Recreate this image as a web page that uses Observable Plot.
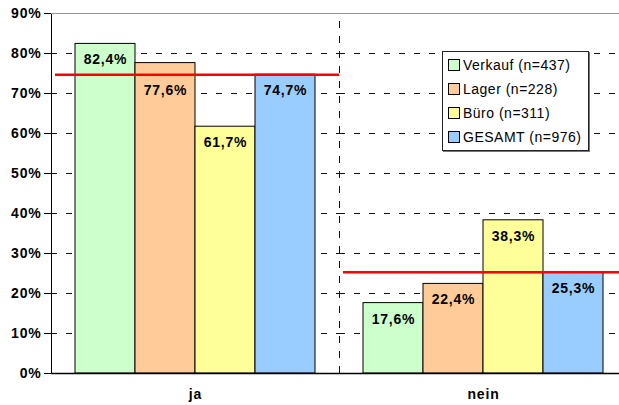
<!DOCTYPE html>
<html>
<head>
<meta charset="utf-8">
<script src="https://cdn.jsdelivr.net/npm/d3@7"></script>
<script src="https://cdn.jsdelivr.net/npm/@observablehq/plot@0.6"></script>
<style>
  body { margin: 0; background: #fff; }
  #wrap { position: relative; width: 619px; height: 405px; overflow: hidden; }
  #legend {
    position: absolute; left: 442px; top: 51px; width: 145px; height: 97px;
    border: 1px solid #222; background: #fff; box-shadow: 1px 1px 0 #777;
    font-family: "Liberation Sans", Arial, sans-serif; font-size: 14px; letter-spacing: 0.5px;
    padding-top: 1px;
  }
  .row { height: 24px; display: flex; align-items: center; padding-left: 5px; }
  .sw { width: 10px; height: 10px; border: 1px solid #000; margin-right: 3px; flex: none; }
  svg text { letter-spacing: 0.8px; }
</style>
</head>
<body>
<div id="wrap"></div>
<script>
const groups = ["ja", "nein"];
const series = ["Verkauf", "Lager", "Büro", "GESAMT"];
const legendLabels = ["Verkauf (n=437)", "Lager (n=228)", "Büro (n=311)", "GESAMT (n=976)"];
const colors = ["#CCFFCC", "#FFCC99", "#FFFF99", "#99CCFF"];
const jaValues = [82.4, 77.6, 61.7, 74.7];
const neinValues = [17.6, 22.4, 38.3, 25.3];
const yTicks = [0, 10, 20, 30, 40, 50, 60, 70, 80, 90];

const valuesByGroup = [jaValues, neinValues];
const rows = groups.flatMap((g, gi) => series.map((s, si) => ({group: g, series: s, value: valuesByGroup[gi][si]})));
const totalOf = g => rows.find(d => d.group === g && d.series === "GESAMT").value;
const fmt = v => v.toFixed(1).replace(".", ",") + "%";
// labels that would collide with the red GESAMT line are moved below it
const collides = d => d.series !== "GESAMT" && d.value > totalOf(d.group) && d.value - totalOf(d.group) < 4;

const padOuter = 0.4;
const fxRange = [51, 627];
const step = (fxRange[1] - fxRange[0]) / groups.length / (series.length + 2 * padOuter);

const chart = Plot.plot({
  width: 619,
  height: 405,
  marginLeft: 51,
  marginTop: 13,
  marginBottom: 32,
  marginRight: 0,
  style: {fontFamily: "'Liberation Sans', Arial, sans-serif", fontSize: "14px", fontWeight: "bold", color: "#000", background: "transparent"},
  fx: {domain: groups, range: fxRange, padding: 0, label: null, axis: "bottom", tickSize: 0, tickPadding: 16},
  x: {domain: series, paddingInner: 0, paddingOuter: padOuter, axis: null},
  y: {domain: [0, 90], ticks: yTicks, tickFormat: d => d + "%", tickSize: 7, tickPadding: 3, label: null, line: true},
  color: {domain: series, range: colors},
  marks: [
    Plot.ruleY(yTicks.filter(d => d > 0 && d < 90), {stroke: "#111", strokeWidth: 1, strokeDasharray: "6,9"}),
    Plot.ruleY([90], {stroke: "#999", strokeWidth: 1}),
    Plot.ruleX(rows.filter(d => d.group === "nein" && d.series === series[0]), {fx: "group", x: "series", y1: 0, y2: 90, dx: -step * (0.5 + padOuter), insetBottom: -5, stroke: "#111", strokeWidth: 1, strokeDasharray: "7,8"}),
    Plot.barY(rows, {fx: "group", x: "series", y: "value", fill: "series", stroke: "#000", strokeWidth: 1}),
    Plot.ruleY(rows.filter(d => d.series === "GESAMT"), {fx: "group", y: "value", stroke: "#ff0000", strokeWidth: 2.5, insetLeft: 4}),
    Plot.text(rows.filter(d => !collides(d)), {fx: "group", x: "series", y: "value", text: d => fmt(d.value), dy: 16, fontSize: 14, fontWeight: "bold", fill: "#000"}),
    Plot.text(rows.filter(collides), {fx: "group", x: "series", y: "value", text: d => fmt(d.value), dy: 27, fontSize: 14, fontWeight: "bold", fill: "#000"}),
    Plot.ruleY([0], {stroke: "#000", strokeWidth: 1.5})
  ]
});

const wrap = document.getElementById("wrap");
wrap.appendChild(chart);

const legend = document.createElement("div");
legend.id = "legend";
series.forEach((s, i) => {
  const row = document.createElement("div");
  row.className = "row";
  const sw = document.createElement("span");
  sw.className = "sw";
  sw.style.background = colors[i];
  const t = document.createElement("span");
  t.textContent = legendLabels[i];
  row.appendChild(sw);
  row.appendChild(t);
  legend.appendChild(row);
});
wrap.appendChild(legend);
</script>
</body>
</html>
